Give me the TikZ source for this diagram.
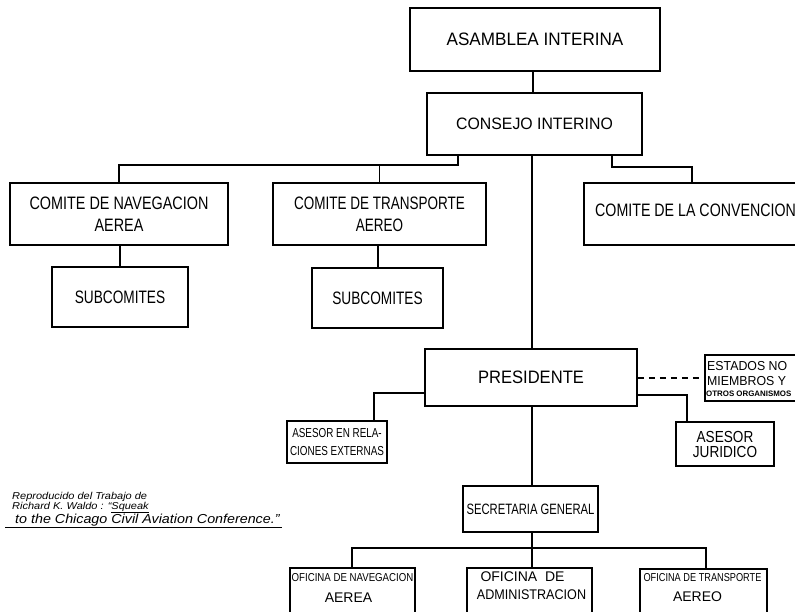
\documentclass[tikz,border=0pt]{standalone}
\usepackage{fontspec}
\newcommand\lsf[3]{\fontspec[FakeStretch=#1]{Liberation Sans}\fontsize{#2}{#3}\selectfont}
\newcommand\capf[2]{\fontspec[FakeStretch=#1]{Liberation Sans}\fontsize{#2}{#2}\selectfont\itshape}
\tikzset{
  box/.style={draw, line width=1.6pt, inner sep=0pt},
  lbl/.style={inner sep=0pt, align=center},
  conn/.style={line width=1.2pt},
}
\begin{document}
\begin{tikzpicture}[x=1pt,y=-1pt]
\clip (0,0) rectangle (795,612);
\fill[white] (0,0) rectangle (795,612);

% top
\node[box, lbl, minimum width=250pt, minimum height=63pt, font={\lsf{0.95}{18}{22}}] (asam) at (535,39.5) {ASAMBLEA INTERINA};
\node[box, lbl, minimum width=215pt, minimum height=62pt, font={\lsf{0.96}{16.5}{20}}] (consejo) at (534.5,124) {CONSEJO INTERINO};

% committees
\node[box, lbl, minimum width=218pt, minimum height=62pt, font={\lsf{0.8}{18}{22}}] (nav) at (119,214) {COMITE DE NAVEGACION\\AEREA};
\node[box, lbl, minimum width=213pt, minimum height=62pt, font={\lsf{0.75}{18}{22}}] (trans) at (379.5,214) {COMITE DE TRANSPORTE\\AEREO};
\node[box, anchor=west, minimum width=240pt, minimum height=62pt] (conv) at (583,214) {};
\node[lbl, anchor=west, font={\lsf{0.79}{18}{22}}] (convt) at (595,210) {COMITE DE LA CONVENCION};

\node[box, lbl, minimum width=136pt, minimum height=60pt, font={\lsf{0.76}{18}{22}}] (sub1) at (120,297) {SUBCOMITES};
\node[box, lbl, minimum width=131pt, minimum height=60pt, font={\lsf{0.76}{18}{22}}] (sub2) at (377.5,298) {SUBCOMITES};

% president level
\node[box, lbl, minimum width=212pt, minimum height=57pt, font={\lsf{0.92}{18}{22}}] (pres) at (531,377.5) {PRESIDENTE};
\node[box, lbl, minimum width=100pt, minimum height=42pt, font={\lsf{0.76}{13}{18}}] (ases1) at (337,442) {ASESOR EN RELA-\\CIONES EXTERNAS};
\node[box, lbl, minimum width=98pt, minimum height=44pt, font={\lsf{0.85}{16}{15}}] (jur) at (725,444) {ASESOR\\JURIDICO};
\node[box, anchor=west, minimum width=120pt, minimum height=46pt] (est) at (704,378) {};
\node[inner sep=0pt, anchor=base west, font={\lsf{0.95}{13}{13}}] (est1) at (707,370) {ESTADOS NO};
\node[inner sep=0pt, anchor=base west, font={\lsf{0.95}{13}{13}}] (est2) at (707,385) {MIEMBROS Y};
\node[inner sep=0pt, anchor=base west, font={\lsf{1}{7.9}{7.9}\bfseries}] (est3) at (706,396) {OTROS ORGANISMOS};

% secretariat
\node[box, lbl, minimum width=135pt, minimum height=46pt, font={\lsf{0.75}{15}{18}}] (sec) at (530.5,509) {SECRETARIA GENERAL};

\node[box, anchor=north, minimum width=125pt, minimum height=80pt] (ofnav) at (352.5,567) {};
\node[lbl, font={\lsf{0.84}{11.5}{14}}] (ofnav1) at (352.5,578) {OFICINA DE NAVEGACION};
\node[lbl, font={\lsf{1}{14}{14}}] (ofnav2) at (348.5,598) {AEREA};
\node[box, anchor=north, minimum width=125pt, minimum height=80pt] (ofadm) at (529.5,567) {};
\node[lbl, font={\lsf{1}{14}{14}}] (ofadm1) at (522.5,577) {OFICINA\ \ DE};
\node[lbl, font={\lsf{0.9}{14}{14}}] (ofadm2) at (531.5,595) {ADMINISTRACION};
\node[box, anchor=north, minimum width=127pt, minimum height=80pt] (oftra) at (703.5,568) {};
\node[lbl, font={\lsf{0.8}{11.5}{14}}] (oftra1) at (702.5,578) {OFICINA DE TRANSPORTE};
\node[lbl, font={\lsf{1}{14}{14}}] (oftra2) at (697.5,597) {AEREO};

% caption
\node[inner sep=0pt, anchor=base west, font={\capf{1.1}{10}}] (cap1) at (12,499) {Reproducido del Trabajo de};
\node[inner sep=0pt, anchor=base west, font={\capf{1.1}{10}}] (cap2) at (12,509) {Richard K. Waldo : “\underline{Squeak}};
\node[inner sep=0pt, anchor=base west, font={\capf{1.1}{13}}] (cap3) at (15,523) {to the Chicago Civil Aviation Conference.”};
\coordinate (u1) at (5,527);
\coordinate (u2) at (282,527);
\draw[line width=0.8pt] (u1) -- (u2);

% connectors
\coordinate (ax) at (533,0);
\coordinate (cx) at (532,0);
\coordinate (b1) at (458,165);
\coordinate (r1) at (612,167);
\coordinate (r2) at (692,167);
\coordinate (p1) at (374,393);
\coordinate (p2) at (687,395);
\coordinate (s1) at (352,548);
\coordinate (s2) at (706,548);

\draw[conn] (asam.south -| ax) -- (consejo.north -| ax);
\draw[conn] (consejo.south -| b1) -- (b1) -| (nav.north);
\draw[conn] (trans.north |- b1) -- (trans.north);
\draw[conn] (consejo.south -| r1) -- (r1) -- (r2) -- (r2 |- conv.north);
\draw[conn] (consejo.south -| cx) -- (pres.north -| cx);
\draw[conn] (nav.south -| sub1.north) -- (sub1.north);
\draw[conn] (trans.south -| 378,0) -- (sub2.north -| 378,0);
\draw[conn] (pres.west |- p1) -- (p1) -- (p1 |- ases1.north);
\draw[conn] (pres.east |- p2) -- (p2) -- (p2 |- jur.north);
\draw[conn, dash pattern=on 6pt off 5pt] (pres.east |- est.west) -- (est.west);
\draw[conn] (pres.south -| cx) -- (sec.north -| cx);
\draw[conn] (sec.south -| cx) -- (ofadm.north -| cx);
\draw[conn] (s1 |- ofnav.north) -- (s1) -- (s2) -- (s2 |- oftra.north);
\end{tikzpicture}
\end{document}
